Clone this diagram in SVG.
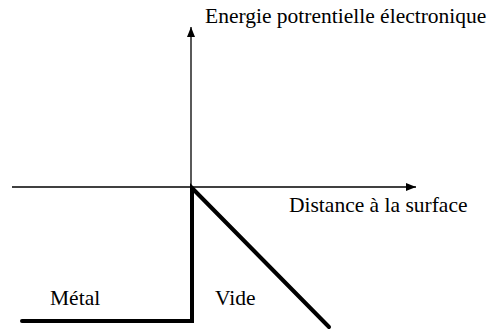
<svg xmlns="http://www.w3.org/2000/svg" width="490" height="334" viewBox="0 0 490 334">
<style>
.ax{stroke:#000;stroke-width:1.3;fill:none}
.th{stroke:#000;stroke-width:4;fill:none;stroke-linecap:round;stroke-linejoin:miter}
text{font-family:"Liberation Serif",serif;font-size:21.5px;fill:#000}
</style>
<defs>
<marker id="ah" viewBox="0 0 10 8" refX="10" refY="4" markerWidth="10" markerHeight="8" markerUnits="userSpaceOnUse" orient="auto">
<path d="M0,0 L10,4 L0,8 Z" fill="#000"/>
</marker>
</defs>
<g id="connectors">
<line class="ax" x1="191" y1="187" x2="191" y2="27" marker-end="url(#ah)"/>
<line class="ax" x1="12" y1="187" x2="416" y2="187" marker-end="url(#ah)"/>
<polyline class="th" points="22,321 192,321 192,188 329,327"/>
</g>
<g id="labels">
<text x="205" y="23">Energie potrentielle électronique</text>
<text x="289" y="212">Distance à la surface</text>
<text x="50" y="305">Métal</text>
<text x="215" y="305">Vide</text>
</g>
</svg>
